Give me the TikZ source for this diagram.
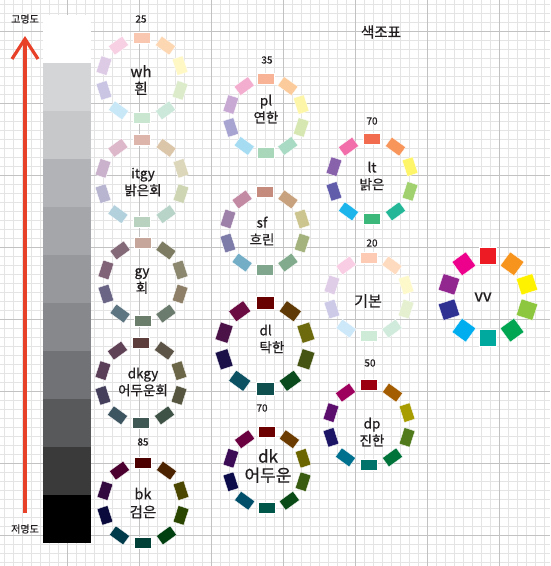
\documentclass[tikz,border=0pt]{standalone}
\usepackage{fontspec}
\setmainfont{Noto Sans CJK KR}[FakeBold=0.6]
\usetikzlibrary{arrows.meta}
\tikzset{font={\fontsize{13.5pt}{17pt}\selectfont}}
\definecolor{arrowred}{HTML}{E8412A}
\definecolor{minorgrid}{HTML}{E4E4E4}
\definecolor{majorgrid}{HTML}{C2C2C2}
\definecolor{ink}{HTML}{231F20}

\begin{document}
\begin{tikzpicture}[x=1pt,y=1pt,
swatch/.style={rectangle,inner sep=0pt,minimum width=17pt,minimum height=11pt,draw=white,line width=0.3pt},
tone/.style={align=center,text=ink},
level/.style={text=ink,font={\fontsize{10pt}{11pt}\selectfont}},
pics/hue ring/.style 2 args={code={
  \foreach \c [count=\i from 0] in {#2}{
    \definecolor{sw}{HTML}{\c}
    \node[swatch,fill=sw,rotate=-36*\i] (-s\i) at (90-36*\i:#1) {};}
}}
]
\useasboundingbox (0,0) rectangle (550,-566);
\fill[white] (0,0) rectangle (550,-566);
% grid paper
\foreach \x in {4,13,...,550} \draw[minorgrid,line width=0.8pt] (\x,0) -- (\x,-566);
\foreach \y in {4,13,...,566} \draw[minorgrid,line width=0.8pt] (0,-\y) -- (550,-\y);
\foreach \x in {67,139,...,499} \draw[majorgrid,line width=0.9pt] (\x,0) -- (\x,-566);
\foreach \y in {31,103,...,535} \draw[majorgrid,line width=0.9pt] (0,-\y) -- (550,-\y);

% value scale
\foreach \g [count=\i from 0] in {FFFFFF,D4D5D7,C7C8CA,B2B3B6,A5A6A9,97989B,87888B,717275,58595B,3A3A3B,000000}{
  \definecolor{gv}{HTML}{\g}
  \fill[gv] (43,-15-48*\i) rectangle (91,-63-48*\i);}
\node[level] (hi) at (25,-19) {고명도};
\node[level] (lo) at (25,-529) {저명도};
\coordinate (a0) at (25,-513);
\coordinate (a1) at (25,-36);
\draw[arrowred,line width=3.2pt,-{Straight Barb[length=20pt,width=26pt]}] (a0) -- (a1);

\node[text=ink,font={\fontsize{14.5pt}{16pt}\selectfont}] (title) at (381,-32) {색조표};

% tone rings
\pic (wh) at (142,-78) {hue ring={40}{F9C6AF,FDD6B2,FFF8C4,DCEBCA,CBE8DA,C8E6D0,C8E7F7,CBC5E4,DDCBE6,F7D0E3}};
\pic (pl) at (266,-116) {hue ring={37}{F8B295,FCCB9B,FDF5A8,D7E7B1,A9DBC4,A8D8B9,A6DCF2,A8A4D1,C8A9D3,F3AECF}};
\pic (lt) at (372,-179) {hue ring={40}{F26D50,F7955B,FFF568,A1D06E,23B797,3DB87B,1CB5EB,625DAA,8862AA,F16EAA}};
\pic (itgy) at (142,-181) {hue ring={41}{DDB5AA,DBC6AA,DCD7BA,CDD5B3,B8D4C9,B9D2C0,B3D1DD,B8B5D0,CAB2CC,DDB8CA}};
\pic (sf) at (265,-231) {hue ring={39}{C58B7D,C8A27E,CCC58F,A4B27E,82AA8C,80A68D,74AEC6,7D7BA8,9E81A8,C38AA4}};
\pic (base) at (369,-297) {hue ring={39}{FDCBB4,FEDBBF,FEF9CB,E4F0D0,D0EBDC,CEEBD8,CCE8F9,CDCAE8,DFCCE6,F9CDE3}};
\pic (gy) at (143,-282) {hue ring={39}{C6A59A,7D7C63,8C8870,8E8068,6B7B6D,6A7E6B,5D7580,6A6585,806377,846A79}};
\pic[swatch/.append style={minimum width=18pt,minimum height=13pt}] (dl) at (265,-346) {hue ring={43}{680000,5F3A06,6C6A0C,455413,0B4A1D,0F504E,0B5162,1C1049,4B1247,6A0C42}};
\pic[swatch/.append style={minimum width=17pt,minimum height=17pt}] (vv) at (488,-297) {hue ring={41}{ED1C24,F7941D,FFF200,8DC63F,00A651,00A99D,00AEEF,2E3192,92278F,EC008C}};
\pic (dkgy) at (141,-383) {hue ring={40}{5E3E3C,5C5446,6C6649,565540,3E5346,3F5853,3D5560,463F5B,5B3E57,5F4256}};
\pic (dp) at (369,-425) {hue ring={40}{9C0010,A35C00,A79C00,507A1C,00733B,00746A,00708F,1C1465,5C0E6C,9E005D}};
\pic (dk) at (267,-470) {hue ring={38}{6C0000,6C3B00,6C6600,3A5C11,0A4A16,005649,004F6A,0D0C4B,3B0C55,6B0040}};
\pic (bk) at (143,-503) {hue ring={40}{4D0000,4B2300,4B4600,2A4600,003F10,004036,003B4B,0A0B3C,330A40,4B002F}};

% tone names
\node[tone,font={\fontsize{15pt}{17pt}\selectfont}] (wh-l) at (141,-80) {wh\\흰};
\node[tone] (pl-l) at (266,-109) {pl\\연한};
\node[tone] (lt-l) at (372,-176) {lt\\밝은};
\node[tone] (itgy-l) at (143,-182) {itgy\\밝은회};
\node[tone] (sf-l) at (262,-231) {sf\\흐린};
\node[tone,font={\fontsize{15pt}{17pt}\selectfont}] (base-l) at (368,-301) {기본};
\node[tone] (gy-l) at (142,-281) {gy\\회};
\node[tone,align=left,anchor=west] (dl-l) at (256,-339) {dl\\탁한};
\node[tone,font={\fontsize{16.5pt}{17pt}\selectfont}] (vv-l) at (483,-297) {vv};
\node[tone] (dkgy-l) at (143,-382) {dkgy\\어두운회};
\node[tone] (dp-l) at (372,-432) {dp\\진한};
\node[tone,font={\fontsize{17pt}{19pt}\selectfont}] (dk-l) at (268,-466) {dk\\어두운};
\node[tone,font={\fontsize{14.5pt}{18pt}\selectfont}] (bk-l) at (143,-503) {bk\\검은};

% chroma numbers
\node[level] (wh-n) at (141,-19) {25};
\node[level] (pl-n) at (267,-60) {35};
\node[level] (lt-n) at (372,-121) {70};
\node[level] (base-n) at (372,-243) {20};
\node[level] (dp-n) at (370,-363) {50};
\node[level] (dk-n) at (262,-408) {70};
\node[level] (bk-n) at (143,-442) {85};
\end{tikzpicture}
\end{document}
